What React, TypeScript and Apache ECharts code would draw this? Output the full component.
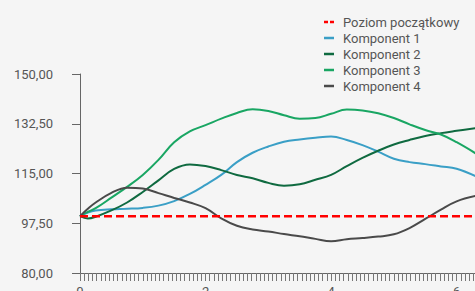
import React, { useEffect, useRef } from "react";
import * as echarts from "echarts";

const xValues = [0, 0.125, 0.25, 0.5, 0.75, 1, 1.25, 1.5, 1.75, 2, 2.25, 2.5, 2.75, 3, 3.25, 3.5, 3.75, 4, 4.25, 4.5, 4.75, 5, 5.25, 5.5, 5.75, 6, 6.3];
const baseline = [100, 100, 100, 100, 100, 100, 100, 100, 100, 100, 100, 100, 100, 100, 100, 100, 100, 100, 100, 100, 100, 100, 100, 100, 100, 100, 100];
const komponent1 = [100, 101.3, 102.0, 102.4, 102.6, 102.9, 103.7, 105.3, 107.8, 111.0, 114.5, 119.0, 122.3, 124.5, 126.2, 127.0, 127.6, 128.0, 126.8, 125.0, 122.7, 120.2, 119.0, 118.3, 117.5, 116.7, 114.1];
const komponent2 = [100, 99.2, 99.8, 102.0, 104.8, 108.5, 112.6, 116.6, 118.2, 117.6, 116.2, 114.5, 113.3, 111.7, 110.7, 111.2, 112.8, 114.5, 117.6, 120.5, 123.0, 125.2, 126.8, 128.2, 129.2, 130.0, 130.9];
const komponent3 = [100, 101.5, 102.8, 106.5, 110.3, 114.5, 119.8, 126.0, 129.8, 132.0, 134.3, 136.3, 137.6, 137.0, 135.5, 134.3, 134.5, 136.0, 137.5, 137.2, 136.2, 134.5, 132.3, 130.3, 128.7, 126.0, 122.1];
const komponent4 = [100, 102.6, 104.8, 108.2, 110.0, 109.7, 108.1, 106.4, 104.8, 102.8, 99.2, 96.6, 95.3, 94.6, 93.7, 92.9, 92.0, 91.2, 91.9, 92.3, 92.8, 93.6, 95.8, 99.0, 102.3, 105.2, 107.1];

const seriesNames = ["Poziom początkowy", "Komponent 1", "Komponent 2", "Komponent 3", "Komponent 4"];
const yTicks = { min: 80, max: 150, interval: 17.5 };
const xTicks = { min: 0, max: 6.5, interval: 2 };

const FONT = "Roboto, sans-serif";
const TEXT = "#555555";
const LINE_ICON = "path://M0,0H10V2.5H0Z";
const DASH_ICON = "path://M0,0H4V2.5H0ZM6,0H10V2.5H6Z";

function pairs(ys: number[]) {
  return xValues.map((x, i) => [x, ys[i]]);
}

export default function App() {
  const ref = useRef<HTMLDivElement>(null);
  useEffect(() => {
    document.body.style.margin = "0";
    document.body.style.background = "#f5f5f5";
    if (!ref.current) return;
    const chart = echarts.init(ref.current, null, { renderer: "svg" });
    const line = (name: string, data: number[], color: string, extra: any = {}) => ({
      name,
      type: "line",
      data: pairs(data),
      smooth: 0.4,
      symbol: "none",
      lineStyle: { color, width: 2 },
      itemStyle: { color },
      ...extra,
    });
    chart.setOption({
      animation: false,
      backgroundColor: "#f5f5f5",
      textStyle: { fontFamily: FONT },
      grid: { left: 80, top: 74, height: 199, width: 408, containLabel: false, outerBoundsMode: "none" },
      legend: {
        orient: "vertical",
        left: 324,
        top: 14,
        padding: 0,
        itemWidth: 10,
        itemHeight: 16,
        itemGap: 0,
        data: seriesNames.map((n, i) => ({ name: n, icon: i === 0 ? DASH_ICON : LINE_ICON })),
        textStyle: { color: TEXT, fontSize: 13, lineHeight: 16, fontFamily: FONT, padding: [0, 0, 0, 4] },
      },
      xAxis: {
        type: "value",
        min: xTicks.min,
        max: xTicks.max,
        interval: xTicks.interval,
        axisLine: { show: true, lineStyle: { color: "#666", width: 1 } },
        axisTick: { show: true, length: 8, lineStyle: { color: "#777" } },
        minorTick: { show: true, splitNumber: 30, length: 8, lineStyle: { color: "#777" } },
        splitLine: { show: false },
        axisLabel: {
          color: TEXT,
          fontSize: 13,
          fontFamily: FONT,
          margin: 12,
          showMaxLabel: false,
        },
      },
      yAxis: {
        type: "value",
        min: yTicks.min,
        max: yTicks.max,
        interval: yTicks.interval,
        axisLine: { show: true, lineStyle: { color: "#666", width: 1 } },
        axisTick: { show: true, length: 8, lineStyle: { color: "#666" } },
        splitLine: { show: false },
        axisLabel: {
          color: TEXT,
          fontSize: 13,
          fontFamily: FONT,
          margin: 27,
          formatter: (v: number) => v.toFixed(2).replace(".", ","),
        },
      },
      series: [
        line(seriesNames[0], baseline, "#ff0000", {
          smooth: false,
          z: 5,
          lineStyle: { color: "#ff0000", width: 2.5, type: [8, 4] },
        }),
        line(seriesNames[1], komponent1, "#3a9fc6"),
        line(seriesNames[2], komponent2, "#0f6a40"),
        line(seriesNames[3], komponent3, "#19a663"),
        line(seriesNames[4], komponent4, "#4a4a4a"),
      ],
    });
    return () => chart.dispose();
  }, []);
  return <div ref={ref} style={{ width: 475, height: 291, background: "#f5f5f5" }} />;
}
